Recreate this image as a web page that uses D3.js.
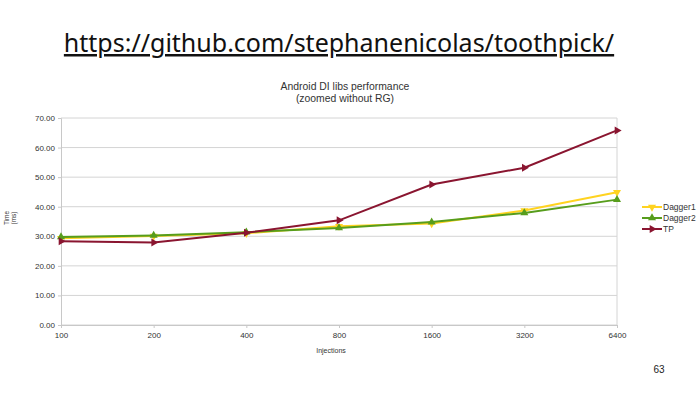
<!DOCTYPE html>
<html>
<head>
<meta charset="utf-8">
<script src="https://cdn.jsdelivr.net/npm/d3@7"></script>
<style>
  body { margin: 0; background: #fff; }
  svg { display: block; }
</style>
</head>
<body>
<div id="root"></div>
<script>
const injections = ['100', '200', '400', '800', '1600', '3200', '6400']
const dagger1 = [29.3, 30.1, 31.0, 33.4, 34.3, 38.7, 44.9]
const dagger2 = [29.8, 30.3, 31.4, 32.8, 34.8, 37.9, 42.4]
const tp = [28.3, 27.9, 31.2, 35.4, 47.5, 53.2, 65.8]
const yTicks = [0, 10, 20, 30, 40, 50, 60, 70]

const series = [
  { name: 'Dagger1', values: dagger1, color: '#ffd320', shape: 'down' },
  { name: 'Dagger2', values: dagger2, color: '#579d1c', shape: 'up' },
  { name: 'TP', values: tp, color: '#8a1530', shape: 'right' }
]

const W = 699, H = 393
const plot = { left: 61, right: 617, top: 118, bottom: 325 }

const svg = d3.select('#root')
  .append('svg')
  .attr('width', W)
  .attr('height', H)

// slide header
svg.append('text')
  .attr('x', 339)
  .attr('y', 52)
  .attr('text-anchor', 'middle')
  .attr('font-family', 'Noto Sans')
  .attr('font-size', 25)
  .attr('fill', '#111')
  .attr('text-decoration', 'underline')
  .text('https://github.com/stephanenicolas/toothpick/')

svg.append('text')
  .attr('x', 659)
  .attr('y', 373)
  .attr('text-anchor', 'middle')
  .attr('font-family', 'Liberation Sans')
  .attr('font-size', 10)
  .attr('fill', '#222')
  .text('63')

// chart title
const title = svg.append('text')
  .attr('text-anchor', 'middle')
  .attr('font-family', 'Liberation Sans')
  .attr('font-size', 10.4)
  .attr('fill', '#333')
title.append('tspan').attr('x', 345).attr('y', 90).text('Android DI libs performance')
title.append('tspan').attr('x', 345).attr('y', 102).text('(zoomed without RG)')

const x = d3.scalePoint()
  .domain(injections)
  .range([plot.left, plot.right])

const y = d3.scaleLinear()
  .domain([0, 70])
  .range([plot.bottom, plot.top])

// grid
svg.append('g')
  .selectAll('line')
  .data(yTicks)
  .join('line')
  .attr('x1', plot.left)
  .attr('x2', plot.right)
  .attr('y1', d => y(d))
  .attr('y2', d => y(d))
  .attr('stroke', '#d4d4d4')
  .attr('stroke-width', 1)

svg.append('line')
  .attr('x1', plot.right).attr('x2', plot.right)
  .attr('y1', plot.top).attr('y2', plot.bottom)
  .attr('stroke', '#d4d4d4')

// axes
const yAxis = svg.append('g')
  .attr('transform', `translate(${plot.left},0)`)
  .call(d3.axisLeft(y).tickValues(yTicks).tickFormat(d3.format('.2f')).tickSize(3).tickPadding(3))
const xAxis = svg.append('g')
  .attr('transform', `translate(0,${plot.bottom})`)
  .call(d3.axisBottom(x).tickSize(3).tickPadding(4))

for (const ax of [xAxis, yAxis]) {
  ax.select('.domain').attr('stroke', '#c8c8c8')
  ax.selectAll('.tick line').attr('stroke', '#c8c8c8')
  ax.selectAll('text')
    .attr('font-family', 'Liberation Sans')
    .attr('font-size', 8)
    .attr('fill', '#333')
}

// axis titles
svg.append('text')
  .attr('x', 331)
  .attr('y', 353)
  .attr('text-anchor', 'middle')
  .attr('font-family', 'Liberation Sans')
  .attr('font-size', 7)
  .attr('fill', '#333')
  .text('Injections')

const yl = svg.append('text')
  .attr('transform', 'translate(10,218) rotate(-90)')
  .attr('text-anchor', 'middle')
  .attr('font-family', 'Liberation Sans')
  .attr('font-size', 6.5)
  .attr('fill', '#333')
yl.append('tspan').attr('x', 0).attr('y', -1).text('Time')
yl.append('tspan').attr('x', 0).attr('y', 6).text('(ms)')

// markers
const tri = d3.symbol().type(d3.symbolTriangle).size(28)
const rot = { up: 0, down: 180, right: 90 }

const line = d3.line()
  .x((d, i) => x(injections[i]))
  .y(d => y(d))

for (const s of series) {
  svg.append('path')
    .datum(s.values)
    .attr('d', line)
    .attr('fill', 'none')
    .attr('stroke', s.color)
    .attr('stroke-width', 2)

  svg.append('g')
    .selectAll('path')
    .data(s.values)
    .join('path')
    .attr('d', tri)
    .attr('transform', (d, i) => `translate(${x(injections[i])},${y(d)}) rotate(${rot[s.shape]})`)
    .attr('fill', s.color)
}

// legend
const legend = svg.append('g')
  .selectAll('g')
  .data(series)
  .join('g')
  .attr('transform', (d, i) => `translate(642,${207 + i * 11})`)

legend.append('line')
  .attr('x1', 0).attr('x2', 20)
  .attr('stroke', d => d.color)
  .attr('stroke-width', 2)
legend.append('path')
  .attr('d', tri)
  .attr('transform', d => `translate(10,0) rotate(${rot[d.shape]})`)
  .attr('fill', d => d.color)
legend.append('text')
  .attr('x', 21)
  .attr('y', 3)
  .attr('font-family', 'Liberation Sans')
  .attr('font-size', 8.5)
  .attr('fill', '#333')
  .text(d => d.name)
</script>
</body>
</html>
